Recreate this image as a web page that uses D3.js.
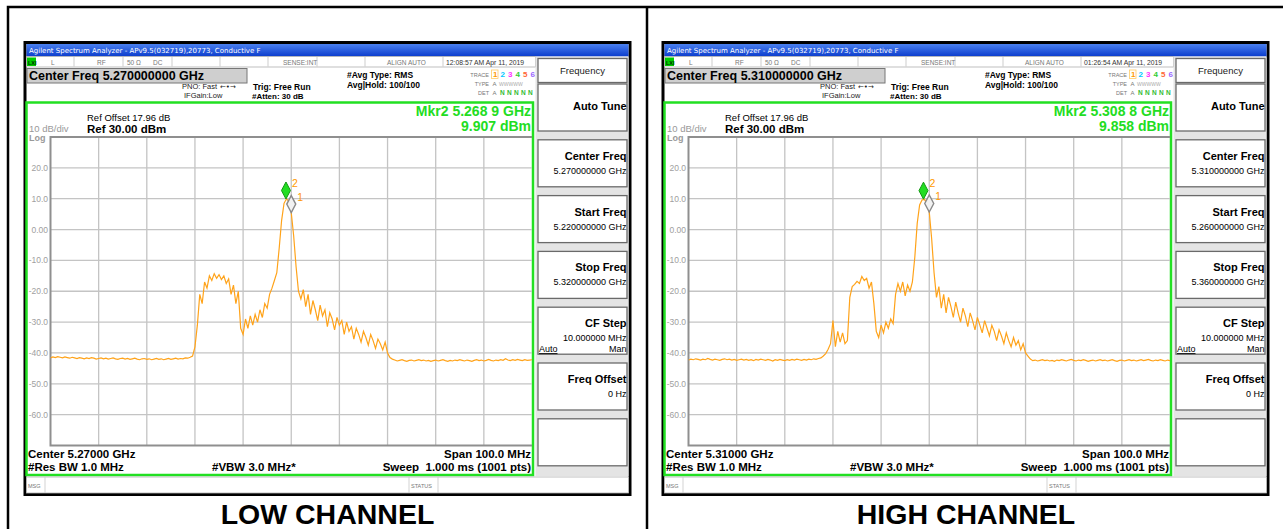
<!DOCTYPE html>
<html>
<head>
<meta charset="utf-8">
<script src="https://cdn.jsdelivr.net/npm/d3@7"></script>
<style>
  body { margin: 0; background: #fff; }
  svg { display: block; font-family: "Liberation Sans", Arial, sans-serif; }
</style>
</head>
<body>
<svg id="chart"></svg>
<script>
// Two spectrum analyzer screens, low and high channel

const captions = ["LOW CHANNEL", "HIGH CHANNEL"];
const centersGHz = [5.27, 5.31];
const spanMHz = 100;
const timestamps = ["12:08:57 AM Apr 11, 2019", "01:26:54 AM Apr 11, 2019"];
const yTicks = [20, 10, 0, -10, -20, -30, -40, -50, -60];

// trace levels (dBm), read every 0.5 MHz across the 100 MHz span
const lowLevels = [
  -41.6,-41.3,-41.5,-41.2,-41.4,-41.6,-41.3,-41.5,-41.7,-41.4,
  -41.6,-41.8,-41.5,-41.7,-41.9,-41.6,-41.8,-41.5,-41.7,-42.0,
  -41.8,-41.6,-41.9,-41.7,-42.0,-41.8,-41.6,-41.9,-42.1,-41.8,
  -41.7,-42.0,-41.8,-42.1,-41.9,-41.7,-42.0,-42.2,-41.9,-41.8,
  -42.1,-41.9,-42.2,-42.0,-41.8,-42.1,-41.9,-42.2,-42.0,-41.8,
  -42.1,-41.9,-41.7,-42.0,-41.8,-41.9,-41.6,-41.7,-41.4,
  -41.0,-38.0,-31.0,-21.0,-24.0,-17.0,-19.0,-15.0,-16.5,-14.3,-15.8,
  -14.6,-16.2,-15.0,-17.5,-16.0,-21.0,-18.0,-24.0,-20.0,-32.0,
  -34.0,-29.0,-32.0,-28.0,-31.0,-27.5,-30.0,-26.0,-28.5,-24.0,
  -25.5,-21.0,-19.0,-16.5,-14.0,-6.0,3.0,8.5,9.9,9.2,
  5.5,-2.0,-12.0,
  -20.0,-22.5,-19.5,-25.0,-21.0,-27.5,-23.0,-26.0,-29.5,-24.5,
  -28.0,-26.0,-31.5,-27.0,-29.0,-32.5,-28.5,-31.0,-29.5,-34.0,
  -30.0,-33.0,-31.5,-35.5,-32.0,-34.0,-36.5,-33.0,-35.0,-37.5,
  -34.0,-36.0,-38.5,-35.5,-37.0,-39.0,-36.5,-40.0,-41.5,-42.0,
  -42.3,-42.6,-42.4,-42.2,-42.5,-42.7,-42.4,-42.3,-42.6,-42.4,
  -42.2,-42.5,-42.3,-42.6,-42.4,-42.7,-42.5,-42.3,-42.6,-42.4,
  -42.2,-42.5,-42.7,-42.4,-42.6,-42.3,-42.5,-42.2,-42.4,-42.6,
  -42.3,-42.5,-42.7,-42.4,-42.2,-42.5,-42.3,-42.6,-42.4,-42.1,
  -42.4,-42.6,-42.3,-42.5,-42.2,-42.4,-41.9,-42.3,-42.5,-42.2,
  -42.4,-42.1,-42.3,-42.5,-42.2,-42.4,-42.3,-42.2
];

const highLevels = [
  -42.3,-42.0,-42.2,-41.9,-42.1,-42.3,-42.0,-42.2,-41.8,-42.1,
  -42.3,-42.0,-42.2,-42.4,-42.1,-41.9,-42.2,-42.0,-42.3,-42.1,
  -42.4,-42.2,-42.0,-42.3,-42.1,-42.4,-42.2,-42.5,-42.1,-42.3,
  -42.0,-42.2,-42.4,-42.1,-42.3,-42.6,-42.2,-42.4,-42.1,-42.3,
  -42.5,-42.2,-42.4,-42.1,-42.3,-42.0,-42.2,-42.4,-42.1,-42.3,
  -42.0,-42.2,-41.9,-42.1,-41.8,-41.6,
  -41.0,-40.2,-38.8,-37.0,-29.5,-38.0,-33.0,-36.5,-33.5,-37.0,
  -36.0,-22.0,-18.5,-17.8,-16.8,-17.5,-15.2,-16.5,-15.8,-19.0,
  -17.0,-24.0,-33.0,-35.0,-31.0,-33.5,-30.0,-32.0,-29.0,-30.5,
  -21.0,-17.5,-20.0,-17.0,-21.5,-18.0,-20.0,-17.0,-9.0,2.0,
  8.0,9.6,9.8,8.5,5.7,-3.0,-14.0,
  -22.0,-18.5,-25.5,-21.0,-27.0,-22.0,-25.0,-28.5,-23.5,-27.0,
  -30.0,-25.5,-28.0,-31.5,-27.0,-29.5,-32.5,-28.5,-31.0,-33.5,
  -29.5,-32.0,-34.5,-31.0,-33.0,-36.0,-32.5,-34.5,-37.0,-33.5,
  -36.0,-38.0,-35.0,-37.5,-36.0,-39.0,-37.0,-40.0,-41.0,-42.0,
  -42.5,-42.3,-42.6,-42.4,-42.2,-42.5,-42.3,-42.6,-42.4,-42.7,
  -42.3,-42.5,-42.2,-42.4,-42.6,-42.3,-42.1,-42.4,-42.6,-42.3,
  -42.5,-42.2,-42.4,-42.7,-42.5,-42.3,-42.6,-42.4,-42.2,-42.5,
  -42.3,-42.6,-42.4,-42.2,-42.5,-42.7,-42.4,-42.3,-42.6,-42.4,
  -42.2,-42.5,-42.3,-42.6,-42.4,-42.2,-42.5,-42.3,-42.1,-42.4,
  -42.6,-42.3,-42.5,-42.2,-42.4,-42.6,-42.3,-42.5
];

// markers: [marker 1, marker 2]
const lowMarkerFreq = [5.2700, 5.2689];
const lowMarkerLevel = [5.5, 9.907];
const highMarkerFreq = [5.3100, 5.3088];
const highMarkerLevel = [5.7, 9.858];

const traceColors = ["#ff9900", "#00c8ff", "#ff33ff", "#33cc33", "#ff6633", "#9966ff"];

const panels = [
  { dx: 0, center: centersGHz[0], time: timestamps[0], levels: lowLevels,
    mFreq: lowMarkerFreq, mLevel: lowMarkerLevel, caption: captions[0], capX: 327.5 },
  { dx: 638, center: centersGHz[1], time: timestamps[1], levels: highLevels,
    mFreq: highMarkerFreq, mLevel: highMarkerLevel, caption: captions[1], capX: 966 }
];

const svg = d3.select("#chart").attr("width", 1283).attr("height", 529);

const defs = svg.append("defs");
const grad = defs.append("linearGradient").attr("id", "titleGrad")
  .attr("x1", 0).attr("y1", 0).attr("x2", 0).attr("y2", 1);
grad.append("stop").attr("offset", "0%").attr("stop-color", "#4a80f0");
grad.append("stop").attr("offset", "100%").attr("stop-color", "#0b3ccc");

// outer table lines
svg.append("path")
  .attr("d", "M8,530V7H1290M647,7V530")
  .attr("fill", "none").attr("stroke", "#000").attr("stroke-width", 2.5);

const plot = { left: 50.5, right: 532, top: 137, bottom: 445.5 };

function drawAnalyzer(p) {
  const g = svg.append("g").attr("transform", `translate(${p.dx},0)`);

  function label(x, y, s, size, o = {}) {
    return g.append("text")
      .attr("x", x).attr("y", y)
      .style("font-size", size + "px")
      .style("font-weight", o.bold ? "bold" : "normal")
      .style("fill", o.fill || "#000")
      .style("text-anchor", o.anchor || "start")
      .style("font-family", o.family || null)
      .text(s);
  }

  const start = p.center - spanMHz / 2000;
  const stop = p.center + spanMHz / 2000;

  // screen frame
  g.append("rect").attr("x", 25).attr("y", 42.5).attr("width", 605).attr("height", 452)
    .attr("fill", "#fff").attr("stroke", "#000").attr("stroke-width", 3);

  // title bar
  g.append("rect").attr("x", 26.5).attr("y", 44).attr("width", 602).attr("height", 12.5)
    .attr("fill", "url(#titleGrad)");
  label(29, 53, "Agilent Spectrum Analyzer - APv9.5(032719),20773, Conductive F", 7,
    { fill: "#fff", family: "DejaVu Sans" });

  // status row
  g.append("rect").attr("x", 26.5).attr("y", 56.5).attr("width", 509).attr("height", 10.5)
    .attr("fill", "#fff").attr("stroke", "#b0b0b0").attr("stroke-width", 0.8);
  g.append("rect").attr("x", 27).attr("y", 57.5).attr("width", 9).attr("height", 8.5).attr("fill", "#00cc00");
  label(28, 64.5, "LXI", 5.5, { bold: true, fill: "#003300" });
  [74, 123, 172, 220, 268, 317, 365, 443].forEach(x => {
    g.append("line").attr("x1", x).attr("x2", x).attr("y1", 57).attr("y2", 66.5)
      .attr("stroke", "#c0c0c0").attr("stroke-width", 0.8);
  });
  const st = { fill: "#777" };
  label(51, 64.5, "L", 6.5, st);
  label(97, 64.5, "RF", 6.5, st);
  label(127, 64.5, "50 Ω", 6.5, st);
  label(153, 64.5, "DC", 6.5, st);
  label(283, 64.5, "SENSE:INT", 6.5, st);
  label(387, 64.5, "ALIGN AUTO", 6.5, st);
  label(446, 64.5, p.time, 6.8, { fill: "#333" });

  // center freq box
  g.append("rect").attr("x", 27).attr("y", 68.5).attr("width", 220).attr("height", 14.5)
    .attr("fill", "#cfcfcf").attr("stroke", "#777").attr("stroke-width", 1);
  label(29, 80, `Center Freq ${p.center.toFixed(9)} GHz`, 12.5, { bold: true });

  label(182, 89, "PNO: Fast", 7.5, { fill: "#222" });
  label(220, 89, "←•→", 7, { family: "DejaVu Sans", fill: "#222" });
  label(184, 98, "IFGain:Low", 7.5, { fill: "#222" });
  label(253, 89.5, "Trig: Free Run", 8.5, { bold: true });
  label(252, 98.5, "#Atten: 30 dB", 8, { bold: true });
  label(347, 77.5, "#Avg Type: RMS", 8.5, { bold: true });
  label(347, 87.5, "Avg|Hold: 100/100", 8.5, { bold: true });

  // trace status block
  label(489, 76.5, "TRACE", 5.5, { fill: "#777", anchor: "end" });
  label(489, 86, "TYPE", 5.5, { fill: "#777", anchor: "end" });
  label(489, 95, "DET", 5.5, { fill: "#777", anchor: "end" });
  g.append("rect").attr("x", 491.5).attr("y", 70).attr("width", 6.5).attr("height", 8.5)
    .attr("fill", "none").attr("stroke", "#ffcc66").attr("stroke-width", 0.8);
  traceColors.forEach((c, k) => {
    label(493 + 7.5 * k, 77, String(k + 1), 8, { fill: c, bold: true });
  });
  label(492.5, 86, "A", 6, { fill: "#777" });
  label(499, 86, "WWWWW", 5, { fill: "#aaa" });
  label(492.5, 95, "A", 6, { fill: "#777" });
  d3.range(5).forEach(k => label(500 + 7 * k, 95, "N", 6.5, { fill: "#33bb33", bold: true }));

  // softkey column
  g.append("rect").attr("x", 535.5).attr("y", 56.5).attr("width", 93).attr("height", 419.5)
    .attr("fill", "#e4e4e4");
  g.append("rect").attr("x", 538).attr("y", 58.5).attr("width", 89).attr("height", 24)
    .attr("fill", "#fff").attr("stroke", "#6a6a6a").attr("stroke-width", 1.3);
  label(582.5, 74, "Frequency", 9.5, { anchor: "middle", fill: "#222" });

  const keyTitles = ["Auto Tune", "Center Freq", "Start Freq", "Stop Freq", "CF Step", "Freq Offset", ""];
  const keyValues = ["", `${p.center.toFixed(9)} GHz`, `${start.toFixed(9)} GHz`,
    `${stop.toFixed(9)} GHz`, "10.000000 MHz", "0 Hz", ""];
  keyTitles.forEach((t, k) => {
    const top = 84 + 55.8 * k;
    g.append("rect").attr("x", 538).attr("y", top).attr("width", 89).attr("height", 47)
      .attr("fill", "#fff").attr("stroke", "#6a6a6a").attr("stroke-width", 1.3);
    if (k === 0) {
      label(626.5, top + 26, t, 11, { bold: true, anchor: "end" });
    } else if (t) {
      label(626.5, top + 20, t, 11, { bold: true, anchor: "end" });
      label(626.5, top + 34, keyValues[k], 9, { anchor: "end" });
    }
    if (t === "CF Step") {
      label(539, top + 45, "Auto", 9, { fill: "#000" }).style("text-decoration", "underline");
      label(626.5, top + 45, "Man", 9, { anchor: "end" });
    }
  });

  // green measurement box
  g.append("rect").attr("x", 26.5).attr("y", 102.5).attr("width", 506.5).attr("height", 372.5)
    .attr("fill", "none").attr("stroke", "#22e022").attr("stroke-width", 2.5);

  label(87, 120.5, "Ref Offset 17.96 dB", 9.5);
  label(87, 132.5, "Ref 30.00 dBm", 11.5, { bold: true });
  label(29, 131.5, "10 dB/div", 9.5, { fill: "#999" });
  label(29, 140.5, "Log", 9, { fill: "#999", bold: true });

  const mk = p.mFreq[1].toFixed(4);
  label(531, 115.5, `Mkr2 ${mk.slice(0, 5)} ${mk.slice(5)} GHz`, 14, { bold: true, fill: "#22dd22", anchor: "end" });
  label(531, 130.5, `${p.mLevel[1].toFixed(3)} dBm`, 14, { bold: true, fill: "#22dd22", anchor: "end" });

  // scales
  const x = d3.scaleLinear().domain([start, stop]).range([plot.left, plot.right]);
  const y = d3.scaleLinear().domain([30, -70]).range([plot.top, plot.bottom]);

  // grid
  const vLines = d3.range(1, 10).map(k => start + k * spanMHz / 10000);
  g.selectAll(null).data(vLines).enter().append("line")
    .attr("x1", d => x(d)).attr("x2", d => x(d))
    .attr("y1", plot.top).attr("y2", plot.bottom)
    .attr("stroke", "#c4c4c4").attr("stroke-width", 1.3);
  g.selectAll(null).data(yTicks).enter().append("line")
    .attr("x1", plot.left).attr("x2", plot.right)
    .attr("y1", d => y(d)).attr("y2", d => y(d))
    .attr("stroke", "#c4c4c4").attr("stroke-width", 1.3);
  g.append("path")
    .attr("d", `M${plot.right},${plot.top}H${plot.left}V${plot.bottom}H${plot.right}`)
    .attr("fill", "none").attr("stroke", "#8f8f8f").attr("stroke-width", 2);

  g.selectAll(null).data(yTicks).enter().append("text")
    .attr("x", 48).attr("y", d => y(d) + 3)
    .style("font-size", "8.5px").style("fill", "#a0a0a0").style("text-anchor", "end")
    .text(d => d === 0 ? "0.00" : d.toFixed(1));

  // trace
  const clipId = "clip" + p.dx;
  defs.append("clipPath").attr("id", clipId).append("rect")
    .attr("x", plot.left).attr("y", plot.top)
    .attr("width", plot.right - plot.left).attr("height", plot.bottom - plot.top);
  const n = p.levels.length;
  const line = d3.line()
    .x((d, i) => x(start + i * (stop - start) / (n - 1)))
    .y(d => y(d));
  g.append("path").datum(p.levels)
    .attr("d", line)
    .attr("clip-path", `url(#${clipId})`)
    .attr("fill", "none").attr("stroke", "#ffa31a").attr("stroke-width", 1.2);

  // markers (diamond tip sits on the trace)
  const diamond = (cx, cy) => `M${cx},${cy}L${cx + 4.5},${cy - 8.5}L${cx},${cy - 17}L${cx - 4.5},${cy - 8.5}Z`;
  const m1x = x(p.mFreq[0]), m1y = y(p.mLevel[0]);
  const m2x = x(p.mFreq[1]), m2y = y(p.mLevel[1]);
  g.append("path").attr("d", diamond(m1x, m1y))
    .attr("fill", "#f2f2f2").attr("stroke", "#8a8a8a").attr("stroke-width", 1.4);
  g.append("path").attr("d", diamond(m2x, m2y))
    .attr("fill", "#22dd22").attr("stroke", "#119911").attr("stroke-width", 1);
  label(m1x + 6, m1y - 12, "1", 10.5, { fill: "#ff9900" });
  label(m2x + 6, m2y - 12, "2", 10.5, { fill: "#ff9900" });

  // bottom annotations
  label(28, 458, `Center ${p.center.toFixed(5)} GHz`, 11.5, { bold: true });
  label(28, 470.5, "#Res BW 1.0 MHz", 11.5, { bold: true });
  label(212, 470.5, "#VBW 3.0 MHz*", 11.5, { bold: true });
  label(531, 458, `Span ${spanMHz.toFixed(1)} MHz`, 11.5, { bold: true, anchor: "end" });
  label(531, 470.5, "Sweep\u00a0\u00a01.000 ms (1001 pts)", 11.5, { bold: true, anchor: "end" });

  // message bar
  g.append("rect").attr("x", 26.5).attr("y", 477).attr("width", 602).attr("height", 16)
    .attr("fill", "#fff").attr("stroke", "#b0b0b0").attr("stroke-width", 0.8);
  [45, 409, 438].forEach(xx => {
    g.append("line").attr("x1", xx).attr("x2", xx).attr("y1", 477).attr("y2", 493)
      .attr("stroke", "#c8c8c8").attr("stroke-width", 0.8);
  });
  label(28, 488, "MSG", 5.5, { fill: "#777" });
  label(411, 488, "STATUS", 5.5, { fill: "#777" });

  // caption under the screen
  svg.append("text").attr("x", p.capX).attr("y", 523.5)
    .style("font-size", "28.5px").style("font-weight", "bold").style("text-anchor", "middle")
    .text(p.caption);
}

panels.forEach(drawAnalyzer);
</script>
</body>
</html>
